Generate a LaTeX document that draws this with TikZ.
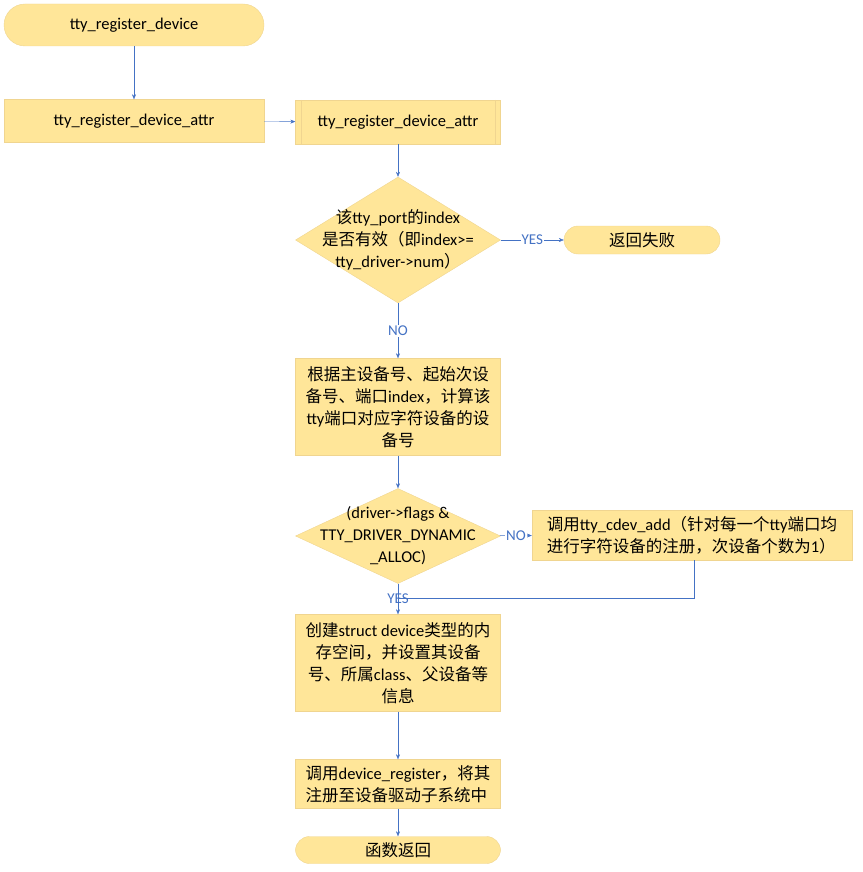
\documentclass[tikz,border=0pt]{standalone}
\usepackage{fontspec}
\setmainfont{Carlito}
\newfontfamily\cjk{Noto Sans CJK SC}
\newcommand{\zh}[1]{{\cjk #1}}
\usetikzlibrary{shapes.geometric,arrows.meta}
\definecolor{fillc}{HTML}{FFE699}
\definecolor{bordc}{HTML}{F0D590}
\definecolor{linec}{HTML}{4472C4}
\begin{document}
\begin{tikzpicture}[x=1pt,y=-1pt,
  every node/.style={font=\fontsize{16.5}{22}\selectfont},
  proc/.style={draw=bordc,fill=fillc,minimum width=205pt,align=center,inner sep=3pt},
  term/.style={draw=bordc,fill=fillc,rounded corners=14pt,minimum height=28pt,align=center},
  dia/.style={draw=bordc,fill=fillc,diamond,aspect=1.63,inner sep=0pt,align=center},
  conn/.style={draw=linec,-{Stealth[length=5pt,width=4pt]}},
  lab/.style={fill=white,text=linec,inner sep=1pt,font=\fontsize{15}{16}\selectfont}]
\useasboundingbox (0,0) rectangle (862,872);
\node[term,minimum width=260pt,minimum height=42pt,rounded corners=21pt] (start) at (134,25) {tty\_register\_device};
\node[proc,minimum width=260pt,minimum height=43pt] (a1) at (134,121) {tty\_register\_device\_attr};
\node[proc,minimum height=44pt] (a2) at (398,122) {tty\_register\_device\_attr};
\draw[bordc] ([xshift=6pt]a2.north west) -- ([xshift=6pt]a2.south west);
\draw[bordc] ([xshift=-6pt]a2.north east) -- ([xshift=-6pt]a2.south east);
\node[dia,minimum width=205pt,minimum height=126pt] (d1) at (398,240) {};
\node at (398,240) [align=center]{\zh{该}tty\_port\zh{的}index\\\zh{是否有效（即}index>=\\tty\_driver->num\zh{）}};
\node[term,minimum width=156pt] (fail) at (642,240) {\zh{返回失败}};
\node[proc,minimum height=97pt] (b3) at (398,407) {\zh{根据主设备号、起始次设}\\\zh{备号、端口}index\zh{，计算该}\\tty\zh{端口对应字符设备的设}\\\zh{备号}};
\node[dia,minimum width=205pt,minimum height=95pt] (d2) at (398,536) {};
\node at (398,536) [align=center]{(driver->flags \&\\TTY\_DRIVER\_DYNAMIC\\\_ALLOC)};
\node[proc,minimum width=320pt,minimum height=50pt,align=left] (rb) at (692,535) {\zh{调用}tty\_cdev\_add\zh{（针对每一个}tty\zh{端口均}\\\zh{进行字符设备的注册，次设备个数为}1\zh{）}};
\node[proc,minimum height=97pt] (b4) at (398,663) {\zh{创建}struct device\zh{类型的内}\\\zh{存空间，并设置其设备}\\\zh{号、所属}class\zh{、父设备等}\\\zh{信息}};
\node[proc,minimum height=49pt,align=left] (b5) at (398,784) {\zh{调用}device\_register\zh{，将其}\\\zh{注册至设备驱动子系统中}};
\node[term,minimum width=205pt,minimum height=27pt] (end) at (398,850) {\zh{函数返回}};
\coordinate (j) at (398,598);
\draw[conn] (start) -- (a1);
\draw[conn] (a1) -- (a2);
\draw[conn] (a2) -- (d1);
\draw[conn] (d1) -- node[lab]{YES} (fail);
\draw[conn] (d1) -- node[lab,pos=0.5]{NO} (b3);
\draw[conn] (b3) -- (d2);
\draw[conn] (d2) -- node[lab]{NO} (rb);
\draw[linec] (rb.south -| 694,0) |- (j);
\draw[conn] (d2) -- (b4);
\node[lab,fill=none] at (398,599) {YES};
\draw[conn] (b4) -- (b5);
\draw[conn] (b5) -- (end);
\end{tikzpicture}
\end{document}
